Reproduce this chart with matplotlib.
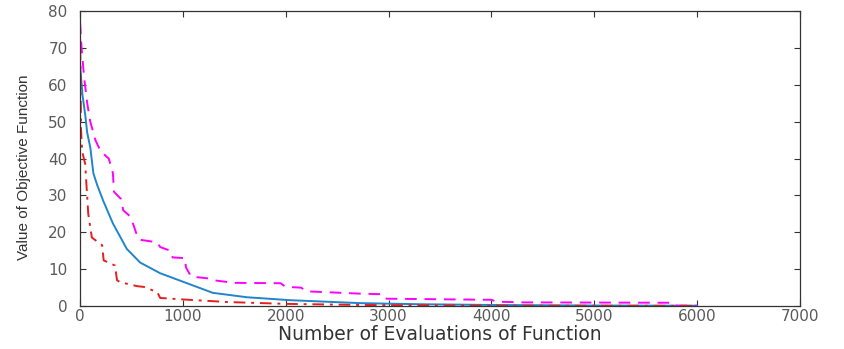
import matplotlib
matplotlib.use('Agg')
from matplotlib import pyplot as plt

# convergence histories (evaluations, objective value)
blueEvals = [0, 10, 25, 50, 70, 100, 130, 165, 225, 320, 455, 585, 780, 1040, 1290, 1620, 2040, 2720, 3300, 4000, 5000, 6000]
blueVals = [66, 62, 57, 52, 47, 43, 36, 33, 28.6, 22.4, 15.5, 11.8, 8.9, 6.2, 3.6, 2.4, 1.6, 0.8, 0.5, 0.3, 0.15, 0.1]

magentaEvals = [0, 15, 40, 70, 100, 150, 200, 280, 300, 320, 330, 400, 420, 480, 520, 550, 580, 750, 780, 880, 900, 1020,
                1030, 1080, 1250, 1300, 1500, 1950, 2000, 2150, 2200, 2700, 2950, 2980, 4000, 4050, 4300, 5780, 5800, 6000]
magentaVals = [77, 70, 62, 55, 50, 45, 42, 40, 38, 36, 31, 29, 26, 24.5, 22, 19.5, 18, 17.3, 16, 15, 13.2, 13,
               10.5, 8, 7.5, 7, 6.3, 6.2, 5.2, 5, 4, 3.4, 3.2, 2, 1.7, 1.2, 1.0, 0.9, 0.1, 0.1]

redEvals = [0, 5, 10, 20, 50, 80, 115, 215, 230, 340, 360, 390, 555, 620, 750, 780, 1000, 1430, 2000, 2720, 4000, 6000]
redVals = [77, 60, 48, 42, 38.6, 25, 18.6, 16.5, 12.4, 11, 7, 6.5, 5.4, 5.2, 3.8, 2.2, 1.8, 1.1, 0.6, 0.3, 0.1, 0.05]

xTicks = [0, 1000, 2000, 3000, 4000, 5000, 6000, 7000]
yTicks = [0, 10, 20, 30, 40, 50, 60, 70, 80]

plt.rcParams['font.family'] = ['DejaVu Sans']

fig = plt.figure(figsize=(8.45, 3.49), dpi=100)
ax = fig.add_axes([0.0947, 0.123, 0.852, 0.845])

ax.plot(blueEvals, blueVals, color='#2085cc', linewidth=1.4, linestyle='-')
ax.plot(magentaEvals, magentaVals, color='#ff00ff', linewidth=1.4, linestyle=(0, (6, 4)))
ax.plot(redEvals, redVals, color='#e51f1f', linewidth=1.4, linestyle=(0, (6, 3, 1.5, 3)))

ax.set_xlim(0, 7000)
ax.set_ylim(0, 80)
ax.set_xticks(xTicks)
ax.set_yticks(yTicks)
ax.tick_params(direction='in', top=True, right=True, length=4, width=0.8,
               labelsize=11, labelcolor='#5a5a5a', color='#333333')
ax.tick_params(axis='x', pad=2)
ax.tick_params(axis='y', pad=9)
for sp in ax.spines.values():
    sp.set_color('#333333')
    sp.set_linewidth(0.9)

ax.set_xlabel('Number of Evaluations of Function', fontsize=13.5, color='#333333', labelpad=1)
ax.set_ylabel('Value of Objective Function', fontsize=11, color='#333333',
              family=['Liberation Sans'])
ax.yaxis.set_label_coords(-0.068, 0.47)

fig.savefig('out.png', dpi=100)
